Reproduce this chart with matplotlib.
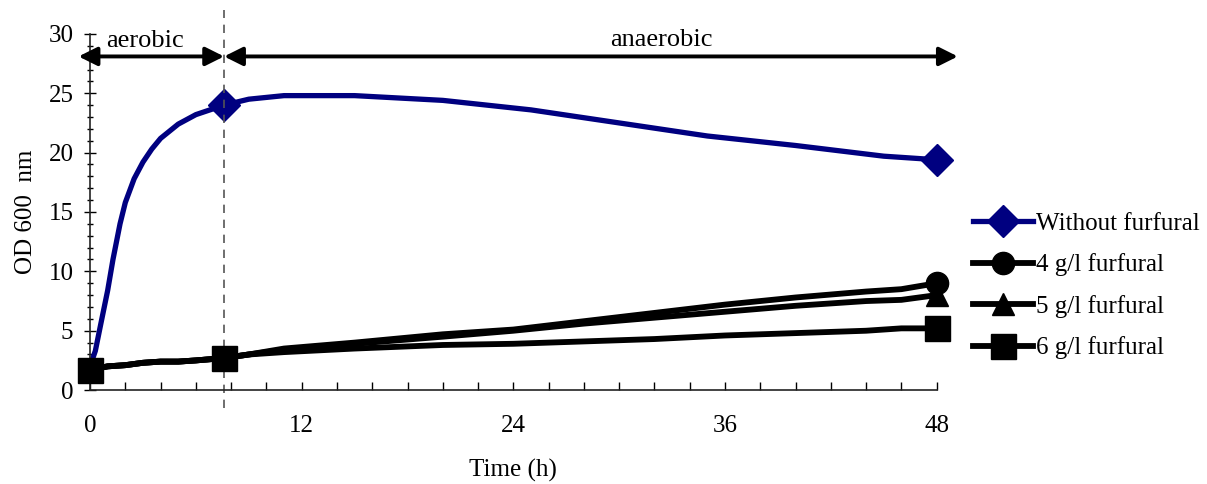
import matplotlib
matplotlib.use("Agg")
import matplotlib.pyplot as plt
from matplotlib.ticker import MultipleLocator

plt.rcParams['font.family'] = ['Liberation Serif', 'DejaVu Serif']

# Data
t_blue = [0, 0.3, 0.6, 1, 1.3, 1.7, 2, 2.5, 3, 3.5, 4, 5, 6, 7, 7.6, 9, 11, 15, 20, 25, 30, 35, 40, 45, 48]
od_blue = [2.0, 3.3, 5.5, 8.4, 11.0, 14.0, 15.8, 17.8, 19.2, 20.3, 21.2, 22.4, 23.2, 23.7, 24.0,
           24.5, 24.8, 24.8, 24.4, 23.6, 22.5, 21.4, 20.6, 19.7, 19.4]

t_black = [0, 1, 2, 3, 4, 5, 6, 7.6, 9, 11, 15, 20, 24, 28, 32, 36, 40, 44, 46, 48]
od_4 = [1.7, 2.0, 2.1, 2.3, 2.4, 2.4, 2.5, 2.7, 3.0, 3.5, 4.0, 4.7, 5.1, 5.8, 6.5, 7.2, 7.8, 8.3, 8.5, 9.0]
od_5 = [1.7, 2.0, 2.1, 2.3, 2.4, 2.4, 2.5, 2.7, 3.0, 3.4, 3.9, 4.5, 5.0, 5.6, 6.1, 6.6, 7.1, 7.5, 7.6, 8.0]
od_6 = [1.7, 2.0, 2.1, 2.3, 2.4, 2.4, 2.5, 2.7, 3.0, 3.2, 3.5, 3.8, 3.9, 4.1, 4.3, 4.6, 4.8, 5.0, 5.2, 5.2]

labels = ["Without furfural", "4 g/l furfural", "5 g/l furfural", "6 g/l furfural"]
switch_time = 7.6

fig = plt.figure(figsize=(12.07, 4.84), dpi=100)
ax = fig.add_axes([0.0746, 0.194, 0.7014, 0.736])

blue_marks = [t_blue.index(switch_time), len(t_blue) - 1]
black_marks = [0, t_black.index(switch_time), len(t_black) - 1]

ax.plot(t_blue, od_blue, color='#000080', lw=3.8, marker='D', ms=16,
        markevery=blue_marks, label=labels[0], zorder=2, clip_on=False)
ax.plot(t_black, od_4, color='black', lw=4.2, marker='o', ms=16,
        markevery=black_marks, label=labels[1], zorder=3, clip_on=False)
ax.plot(t_black, od_5, color='black', lw=4.2, marker='^', ms=16,
        markevery=black_marks, label=labels[2], zorder=3, clip_on=False)
ax.plot(t_black, od_6, color='black', lw=4.2, marker='s', ms=18,
        markevery=black_marks, label=labels[3], zorder=3, clip_on=False)

ax.set_xlim(0, 48)
ax.set_ylim(0, 30)
ax.xaxis.set_major_locator(MultipleLocator(12))
ax.xaxis.set_minor_locator(MultipleLocator(2))
ax.yaxis.set_major_locator(MultipleLocator(5))
ax.yaxis.set_minor_locator(MultipleLocator(1))
for s in ['top', 'right']:
    ax.spines[s].set_visible(False)
for s in ['left', 'bottom']:
    ax.spines[s].set_color('#222222')
    ax.spines[s].set_linewidth(1.2)
ax.tick_params(axis='x', which='both', direction='in', length=6, width=1, pad=18, labelsize=18)
ax.tick_params(axis='y', which='major', direction='inout', length=8, width=1, pad=8, labelsize=18)
ax.tick_params(axis='y', which='minor', direction='inout', length=5, width=1)

ax.set_xlabel("Time (h)", fontsize=18, labelpad=16)
ax.set_ylabel("OD 600  nm", fontsize=18, labelpad=8)

# Dashed switch line
ax.axvline(switch_time, ymin=-0.05, ymax=1.067, color='#555555', ls=(0, (5, 4)),
           lw=1.2, clip_on=False)

# Phase arrows
arrow_y = 28.1
ax.annotate('', xy=(-0.65, arrow_y), xytext=(switch_time, arrow_y),
            arrowprops=dict(arrowstyle='<|-|>', color='black', lw=2.8,
                            mutation_scale=28, shrinkA=0, shrinkB=0),
            annotation_clip=False)
ax.annotate('', xy=(switch_time, arrow_y), xytext=(49.2, arrow_y),
            arrowprops=dict(arrowstyle='<|-|>', color='black', lw=2.8,
                            mutation_scale=28, shrinkA=0, shrinkB=0),
            annotation_clip=False)
ax.text(3.1, 28.5, "aerobic", fontsize=19, ha='center', va='bottom')
ax.text(32.4, 28.6, "anaerobic", fontsize=19, ha='center', va='bottom')

leg = fig.legend(loc='upper left', bbox_to_anchor=(0.798, 0.582), frameon=False,
                 fontsize=18, handlelength=2.4, handletextpad=0.1, labelspacing=0.74,
                 borderaxespad=0)

fig.savefig("out.png", dpi=100)
